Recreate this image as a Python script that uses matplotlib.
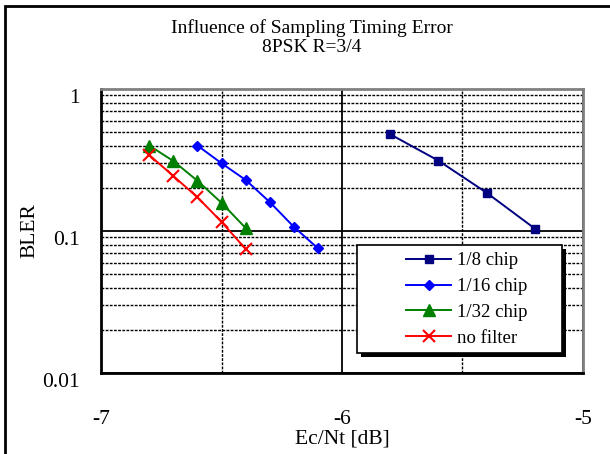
import numpy as np
import matplotlib.pyplot as plt
import matplotlib.transforms as mtransforms
from matplotlib.patches import Rectangle

plt.rcParams['font.family'] = ['Liberation Serif', 'DejaVu Serif']

# BLER vs Ec/Nt for each sampling filter
x_8 = [-5.80, -5.60, -5.40, -5.20]
bler_8 = [0.48, 0.313, 0.186, 0.104]

x_16 = [-6.60, -6.50, -6.40, -6.30, -6.20, -6.10]
bler_16 = [0.40, 0.30, 0.229, 0.16, 0.107, 0.0755]

x_32 = [-6.80, -6.70, -6.60, -6.50, -6.40]
bler_32 = [0.40, 0.311, 0.226, 0.158, 0.105]

x_nf = [-6.80, -6.70, -6.60, -6.50, -6.40]
bler_nf = [0.343, 0.244, 0.173, 0.116, 0.0747]

labels = ['1/8 chip', '1/16 chip', '1/32 chip', 'no filter']
xticks = [-7, -6, -5]
yticks = [0.01, 0.1, 1]
ytick_labels = ['0.01', '0.1', '1']

W, H = 610, 454


def fx(px):
    return px / W


def fy(py):
    return 1 - py / H


def main():
    fig = plt.figure(figsize=(W / 100, H / 100), dpi=100)
    ax = fig.add_axes([fx(101), fy(373), 482 / W, 284 / H])

    ax.plot(x_8, bler_8, color='#000080', marker='s', ms=6, lw=1.4, label=labels[0])
    ax.plot(x_16, bler_16, color='#0000FF', marker='D', ms=5.5, lw=1.4, label=labels[1])
    ax.plot(x_32, bler_32, color='#008000', marker='^', ms=8, lw=1.4, label=labels[2])
    ax.plot(x_nf, bler_nf, color='#FF0000', marker='x', ms=8, mew=1.5, lw=1.4, label=labels[3])

    ax.set_yscale('log')
    ax.set_xlim(-7, -5)
    ax.set_ylim(0.01, 1)

    ax.set_xticks(xticks)
    ax.set_xticklabels([str(t) for t in xticks])
    ax.set_xticks([-6.5, -5.5], minor=True)
    ax.set_yticks(yticks)
    ax.set_yticklabels(ytick_labels)
    ax.set_yticks([m * d for d in (0.01, 0.1) for m in range(2, 10)], minor=True)
    ax.yaxis.set_minor_formatter(plt.NullFormatter())

    ax.grid(True, which='major', color='black', lw=1.3, ls='-')
    ax.grid(True, which='minor', color='black', lw=1.0, ls=(0, (2, 1)))
    ax.set_axisbelow(True)

    ax.tick_params(which='both', length=0, labelsize=15.5)
    ax.tick_params(axis='y', pad=15)
    ax.tick_params(axis='x', pad=26.5)
    # nudge y labels down a bit
    off = mtransforms.ScaledTranslation(0, -7 / 100, fig.dpi_scale_trans)
    for lab in ax.get_yticklabels():
        lab.set_transform(lab.get_transform() + off)

    for side in ('left', 'bottom'):
        ax.spines[side].set_color('black')
        ax.spines[side].set_linewidth(2)
    for side in ('top', 'right'):
        ax.spines[side].set_color('#808080')
        ax.spines[side].set_linewidth(2)

    ax.set_xlabel('Ec/Nt [dB]', fontsize=15.5)
    ax.xaxis.set_label_coords(0.5, -0.232)
    ax.xaxis.label.set_va('center')
    ax.set_ylabel('BLER', fontsize=15.5)
    ax.yaxis.set_label_coords(-0.147, 0.5)
    ax.yaxis.label.set_va('center')

    fig.text(fx(312), fy(28), 'Influence of Sampling Timing Error',
             ha='center', va='center', fontsize=14)
    fig.text(fx(312), fy(47), '8PSK R=3/4',
             ha='center', va='center', fontsize=14)

    # legend box with a black drop shadow, entries drawn inside it
    fig.patches.append(Rectangle((fx(361), fy(357)), 205 / W, 108 / H,
                                 transform=fig.transFigure, facecolor='black',
                                 edgecolor='none', zorder=5))
    fig.patches.append(Rectangle((fx(357), fy(353)), 205 / W, 108 / H,
                                 transform=fig.transFigure, facecolor='white',
                                 edgecolor='black', lw=1.2, zorder=6))
    leg = fig.legend(loc='upper left', bbox_to_anchor=(fx(406), fy(252)),
                     fontsize=13.5, frameon=False, handlelength=2.4,
                     handletextpad=0.3, labelspacing=0.47, borderpad=0,
                     borderaxespad=0)
    leg.set_zorder(7)

    # frame around the whole chart
    fig.patches.append(Rectangle((fx(5), -0.1), 1.2, fy(6) + 0.1,
                                 transform=fig.transFigure, fill=False,
                                 lw=2, edgecolor='black'))

    plt.savefig('out.png', dpi=100)


if __name__ == '__main__':
    main()
